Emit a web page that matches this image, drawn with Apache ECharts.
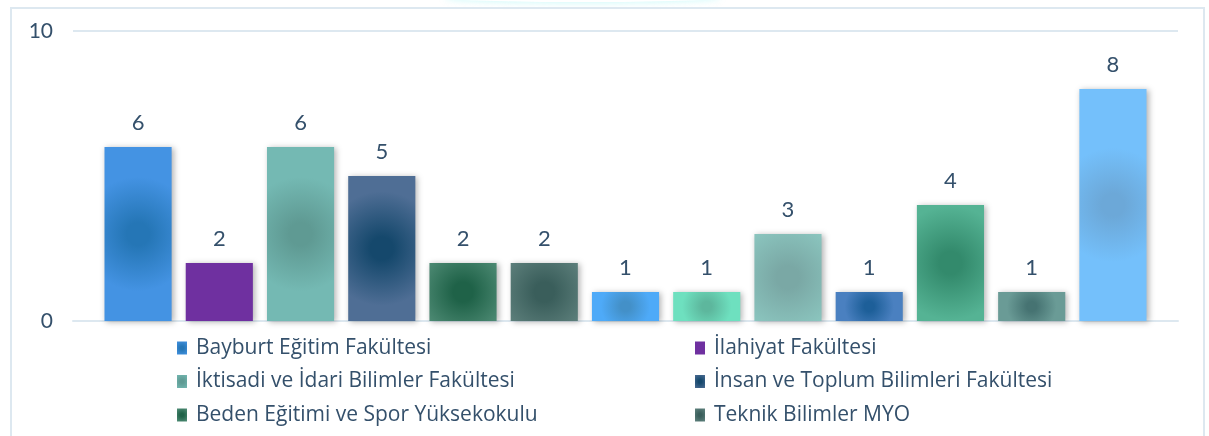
<!DOCTYPE html>
<html>
<head>
<meta charset="utf-8">
<script src="https://cdn.jsdelivr.net/npm/echarts@6/dist/echarts.min.js"></script>
<style>
  html, body { margin: 0; padding: 0; background: #fff; }
  .card {
    position: absolute; left: 10px; top: 7px; width: 1195px; height: 460px;
    border: 2px solid #dde8f0; box-sizing: border-box;
  }
  .glow {
    position: absolute; left: 445px; top: -6px; width: 275px; height: 8px;
    border-radius: 50%; box-shadow: 0 0 6px 1px rgba(120, 240, 240, 0.35);
  }
  #chart { position: absolute; left: 0; top: 0; width: 1209px; height: 436px; }
</style>
</head>
<body>
<div class="glow"></div>
<div class="card"></div>
<div id="chart"></div>
<script>
// tek kategori, her birim ayrı seri
const categories = [''];
const names = [
  'Bayburt Eğitim Fakültesi',
  'İlahiyat Fakültesi',
  'İktisadi ve İdari Bilimler Fakültesi',
  'İnsan ve Toplum Bilimleri Fakültesi',
  'Beden Eğitimi ve Spor Yüksekokulu',
  'Teknik Bilimler MYO'
];
const values = [6, 2, 6, 5, 2, 2, 1, 1, 3, 1, 4, 1, 8];
const edgeColors = ['#4493e3', '#6f30a0', '#74b9b3', '#4f6e95', '#54907a', '#628480',
  '#4eaaf8', '#6ee0bf', '#8cc7c0', '#4a80c0', '#55b394', '#6a9b96', '#74c0fb'];
const centerColors = ['#2576b6', '#6f30a0', '#5f9a93', '#15486c', '#1f6248', '#3a5e5b',
  '#4390c8', '#5db79d', '#7aa8a5', '#1d5f99', '#338a6c', '#467372', '#6ca8d8'];
const yTicks = [0, 10];

const chart = echarts.init(document.getElementById('chart'));

const series = values.map((v, i) => ({
  name: names[i],
  type: 'bar',
  data: [v],
  barGap: '21%',
  barCategoryGap: '5.7%',
  itemStyle: {
    color: new echarts.graphic.RadialGradient(0.5, 0.5, 0.85, [
      { offset: 0, color: centerColors[i] },
      { offset: 0.2, color: centerColors[i] },
      { offset: 1, color: edgeColors[i] }
    ]),
    shadowColor: 'rgba(0,0,0,0.3)',
    shadowBlur: 6,
    shadowOffsetX: 2,
    shadowOffsetY: 1
  },
  label: {
    show: true,
    position: 'top',
    distance: 13,
    color: '#34506b',
    fontSize: 22,
    fontFamily: 'Lato'
  }
}));

const legendText = {
  color: '#34506b',
  fontSize: 21,
  fontFamily: 'Open Sans',
  lineHeight: 24,
  padding: [0, 0, 0, 4]
};

const option = {
  animation: false,
  legend: [
    {
      data: [names[0], names[2], names[4]],
      orient: 'vertical',
      left: 172, top: 331,
      icon: 'rect',
      itemWidth: 10, itemHeight: 13, itemGap: 9.5,
      selectedMode: false,
      textStyle: legendText
    },
    {
      data: [names[1], names[3], names[5]],
      orient: 'vertical',
      left: 690, top: 331,
      icon: 'rect',
      itemWidth: 10, itemHeight: 13, itemGap: 9.5,
      selectedMode: false,
      textStyle: legendText
    }
  ],
  grid: { left: 73, right: 31, top: 31, bottom: 115, containLabel: false },
  xAxis: {
    type: 'category',
    data: categories,
    axisLine: { lineStyle: { color: '#dde8f0', width: 2 } },
    axisTick: { show: false },
    axisLabel: { show: false }
  },
  yAxis: {
    type: 'value',
    min: yTicks[0],
    max: yTicks[1],
    interval: 10,
    axisLine: { show: false },
    axisTick: { show: false },
    axisLabel: { color: '#34506b', fontSize: 21, fontFamily: 'Lato', margin: 20 },
    splitLine: { lineStyle: { color: '#dde8f0', width: 2 } }
  },
  series: series
};

chart.setOption(option);
</script>
</body>
</html>
